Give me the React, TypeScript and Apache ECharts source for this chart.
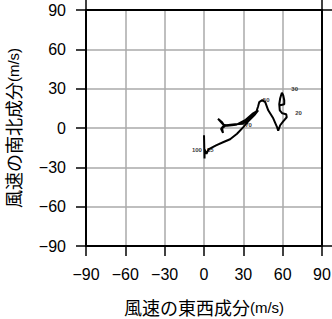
import React, { useEffect, useRef } from "react";
import * as echarts from "echarts";

// Hodograph: eastward (u) and northward (v) wind components, m/s
const windU = [0, 0.4, 0.4, 1.9, 3.4, 9.2, 14.5, 19.9, 25.2, 29.8, 33.7, 38.3, 41.3, 37.5, 31.4, 24.5, 17.6, 14.5, 10.7, 13.8, 15.3, 13.0, 14.5, 13.8, 16.8, 23.7, 29.8, 35.2, 39.8, 41.3, 42.1, 44.4, 46.7, 49.0, 52.8, 55.8, 56.6, 58.1, 60.4, 63.1, 62.7, 59.7, 57.8, 57.4, 58.1, 59.4, 60.4, 61.2, 61.2, 58.1];
const windV = [-5.6, -23.2, -16.3, -19.7, -16.3, -13.2, -10.9, -8.6, -4.4, 0.5, 5.1, 9.7, 13.5, 11.2, 5.9, 2.4, 1.7, 2.8, 7.0, 4.4, 2.1, -0.6, -3.7, -0.2, 2.1, 2.8, 3.2, 8.2, 12.0, 16.6, 19.7, 21.2, 19.7, 13.5, 7.4, 0.5, -2.1, 2.1, 5.1, 8.2, 10.5, 11.2, 13.5, 18.1, 22.7, 26.9, 25.0, 21.2, 18.1, 17.4];

// Pressure level labels (x10 hPa) and where they sit
const levelLabels = ["100", "85", "70", "50", "30", "20"];
const levelU = [-9.2, 2.3, 31.4, 44.9, 66.6, 69.6];
const levelV = [-17.1, -17.1, 2.4, 21.2, 30.0, 11.2];

const axisTicks = [-90, -60, -30, 0, 30, 60, 90];

const fmt = (v: number) => (v < 0 ? "\u2212" + Math.abs(v) : String(v));

export default function App() {
  const ref = useRef<HTMLDivElement>(null);
  useEffect(() => {
    document.body.style.margin = "0";
    const chart = echarts.init(ref.current!, null, { renderer: "svg" });
    const labelStyle = { fontSize: 16, color: "#000", fontFamily: "Liberation Sans" };
    const lineBlack = { color: "#000", width: 2 };
    const mainAxis = (pos: string) => ({
      type: "value",
      position: pos,
      min: axisTicks[0],
      max: axisTicks[axisTicks.length - 1],
      interval: 30,
      axisLine: { show: true, onZero: false, lineStyle: lineBlack },
      axisTick: { show: true, inside: false, length: 10, lineStyle: { color: "#000", width: 1.5 } },
      axisLabel: { show: true, margin: 20, formatter: fmt, ...labelStyle },
      splitLine: { show: true, lineStyle: { color: "#aaaaaa", width: 1.5 } },
      nameLocation: "middle",
    });
    const sideAxis = (pos: string) => ({
      type: "value",
      position: pos,
      min: axisTicks[0],
      max: axisTicks[axisTicks.length - 1],
      interval: 30,
      axisLine: { show: true, onZero: false, lineStyle: lineBlack },
      axisTick: { show: true, inside: false, length: 10, customValues: [axisTicks[0], axisTicks[axisTicks.length - 1]], lineStyle: { color: "#000", width: 1.5 } },
      axisLabel: { show: false },
      splitLine: { show: false },
    });
    const rich = {
      a: { fontSize: 18, lineHeight: 18, color: "#000", fontFamily: "Noto Sans CJK JP" },
      b: { fontSize: 15, lineHeight: 18, color: "#000", fontFamily: "Liberation Sans" },
    };
    chart.setOption({
      animation: false,
      grid: { left: 86, top: 10, width: 236, height: 236, containLabel: false, outerBoundsMode: "none" },
      xAxis: [
        { ...mainAxis("bottom"), name: "{a|風速の東西成分}{b|(m/s)}", nameGap: 52, nameTextStyle: { rich, lineHeight: 18 } },
        sideAxis("top"),
      ],
      yAxis: [
        { ...mainAxis("left"), name: "{a|風速の南北成分}{b|(m/s)}", nameGap: 64, nameTextStyle: { rich, lineHeight: 18 } },
        sideAxis("right"),
      ],
      series: [
        {
          type: "line",
          xAxisIndex: 0,
          yAxisIndex: 0,
          data: windU.map((u, i) => [u, windV[i]]),
          showSymbol: false,
          symbol: "none",
          lineStyle: { color: "#000", width: 2 },
          z: 5,
        },
        {
          type: "scatter",
          xAxisIndex: 0,
          yAxisIndex: 0,
          symbolSize: 0,
          itemStyle: { color: "#000" },
          data: levelLabels.map((n, i) => ({ name: n, value: [levelU[i], levelV[i]] })),
          label: {
            show: true,
            position: "right",
            distance: 0,
            formatter: (p: any) => p.name,
            fontSize: 6,
            fontWeight: "bold",
            color: "#000000",
            textBorderWidth: 0,
            fontFamily: "Liberation Sans",
            align: "left",
            verticalAlign: "middle",
          },
          z: 6,
        },
      ],
    });
    return () => chart.dispose();
  }, []);
  return <div ref={ref} style={{ width: 332, height: 319 }} />;
}
